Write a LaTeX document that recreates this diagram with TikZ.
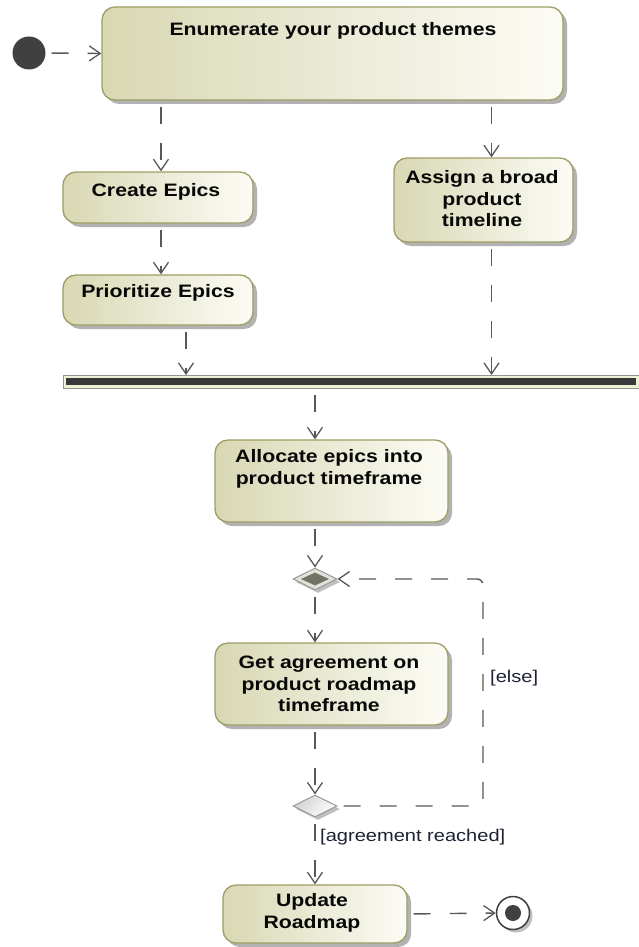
\documentclass[tikz,border=0pt]{standalone}
\usepackage{fontspec}
\setmainfont{Liberation Sans}
\newfontfamily\actfont{Liberation Sans}[FakeStretch=1.18]
\usetikzlibrary{arrows.meta,shapes.geometric,shadows,calc}

\definecolor{actL}{RGB}{216,216,180}
\definecolor{actR}{RGB}{252,252,246}
\definecolor{actB}{RGB}{158,158,100}
\definecolor{flowC}{RGB}{88,88,88}
\definecolor{inkC}{RGB}{8,8,8}
\definecolor{guardC}{RGB}{30,34,50}
\definecolor{initC}{RGB}{64,64,64}
\definecolor{mergeL}{RGB}{226,226,218}
\definecolor{mergeD}{RGB}{112,116,96}
\definecolor{forkL}{RGB}{240,240,214}
\definecolor{forkD}{RGB}{56,56,56}

\begin{document}
\begin{tikzpicture}[x=1pt,y=-1pt,
  act/.style={draw=actB, line width=1.3pt, rounded corners=13pt,
    left color=actL, right color=actR, inner sep=0pt,
    drop shadow={shadow xshift=4pt, shadow yshift=-4pt, fill=black, opacity=0.3}},
  acttext/.style={font=\actfont\bfseries\fontsize{18}{21.5}\selectfont,
    text=inkC, align=center, inner sep=0pt},
  guard/.style={font=\actfont\fontsize{17}{20}\selectfont, text=guardC,
    inner sep=0pt, anchor=west},
  flow/.style={draw=flowC, line width=1.4pt, dash pattern=on 17pt off 19pt,
    dash phase=30pt, -{Straight Barb[length=11pt,width=15pt,line width=1.3pt]}},
  choice/.style={diamond, aspect=2, minimum width=44pt, minimum height=22pt,
    inner sep=0pt, draw=gray!80, line width=1pt,
    drop shadow={shadow xshift=3pt, shadow yshift=-3pt, fill=black, opacity=0.25}},
]
\fill[white] (0,0) rectangle (639,947);
\useasboundingbox (0,0) rectangle (639,947);

% start and end
\node[circle, fill=initC, minimum size=33pt, inner sep=0pt] (init) at (29,53) {};
\node[circle, draw=initC, line width=1.5pt, fill=white, minimum size=33pt, inner sep=0pt,
  drop shadow={shadow xshift=3pt, shadow yshift=-3pt, fill=black, opacity=0.25}] (final) at (513,913) {};
\node[circle, fill=initC, minimum size=16pt, inner sep=0pt] (finalDot) at (final) {};

% actions
\node[act, minimum width=461pt, minimum height=93pt] (enum) at (332.5,53.5) {};
\node[act, minimum width=190pt, minimum height=51pt] (create) at (158,197.5) {};
\node[act, minimum width=190pt, minimum height=50pt] (prio) at (158,300) {};
\node[act, minimum width=179pt, minimum height=84pt] (assign) at (483.5,200) {};
\node[act, minimum width=233pt, minimum height=82pt] (alloc) at (331.5,481) {};
\node[act, minimum width=233pt, minimum height=82pt] (agree) at (331.5,684) {};
\node[act, minimum width=184pt, minimum height=58pt] (update) at (315,914) {};

\node[acttext] (enumT) at (333,31) {Enumerate your product themes};
\node[acttext] (createT) at (156,192) {Create Epics};
\node[acttext] (prioT) at (158,293) {Prioritize Epics};
\node[acttext] (assignT) at (482,199) {Assign a broad\\product\\timeline};
\node[acttext] (allocT) at (329,469) {Allocate epics into\\product timeframe};
\node[acttext] (agreeT) at (329,684) {Get agreement on\\product roadmap\\timeframe};
\node[acttext] (updateT) at (312,913) {Update\\Roadmap};

% fork bar
\node[fill=forkL, draw=gray!85, line width=0.8pt, minimum width=576pt, minimum height=13pt,
  inner sep=0pt, anchor=north west] (fork) at (63,375) {};
\node[fill=forkD, minimum width=570pt, minimum height=7pt, inner sep=0pt] (forkBar) at (fork) {};

% merge and decision
\node[choice, fill=mergeL] (merge) at (315,579) {};
\node[diamond, aspect=2, minimum width=28pt, minimum height=13pt, inner sep=0pt,
  fill=mergeD] (mergeIn) at (merge) {};
\node[choice, top color=gray!35, bottom color=white, shading angle=45] (decide) at (315,806) {};

% control flows
\draw[flow] (init.east) -- (enum.west);
\draw[flow] ([xshift=3pt]create.north |- enum.south) -- ([xshift=3pt]create.north);
\draw[flow] ([xshift=8pt]assign.north |- enum.south) -- ([xshift=8pt]assign.north);
\draw[flow] ([xshift=3pt]create.south) -- ([xshift=3pt]prio.north);
\draw[flow] ([xshift=28pt]prio.south) -- ([xshift=28pt]prio.south |- fork.north);
\draw[flow] ([xshift=8pt]assign.south) -- ([xshift=8pt]assign.south |- fork.north);
\draw[flow] ([xshift=-16.5pt]alloc.north |- fork.south) -- ([xshift=-16.5pt]alloc.north);
\draw[flow] ([xshift=-16.5pt]alloc.south) -- (merge.north);
\draw[flow] (merge.south) -- (merge.south |- agree.north);
\draw[flow] (decide.north |- agree.south) -- (decide.north);
\draw[flow] (decide.south) -- (update.north);
\draw[flow] (update.east) -- (final.west);

\coordinate (loopR) at (483,700);
\draw[flow, rounded corners=6pt] (decide.east) -- (decide.east -| loopR)
  -- (merge.east -| loopR) -- (merge.east);

% guards
\node[guard] (gElse) at (490,678) {[else]};
\node[guard] (gOk) at (320,837) {[agreement reached]};
\end{tikzpicture}
\end{document}
